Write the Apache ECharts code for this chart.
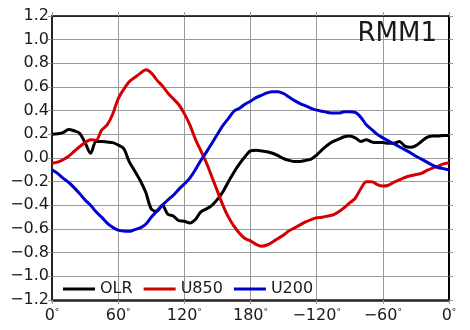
<!DOCTYPE html>
<html><head><meta charset="utf-8">
<script src="https://cdn.jsdelivr.net/npm/echarts@6/dist/echarts.min.js"></script>
<style>html,body{margin:0;padding:0;background:#fff}#c{width:470px;height:330px}</style>
</head><body><div id="c"></div>
<script>
const lon = [0,5,10,15,20,25,30,35,40,45,50,55,60,65,70,75,80,85,90,95,100,105,110,115,120,125,130,135,140,145,150,155,160,165,170,175,180,185,190,195,200,205,210,215,220,225,230,235,240,245,250,255,260,265,270,275,280,285,290,295,300,305,310,315,320,325,330,335,340,345,350,355,360];
const olr = [0.20,0.205,0.215,0.24,0.23,0.21,0.13,0.04,0.14,0.14,0.135,0.13,0.11,0.08,-0.03,-0.11,-0.19,-0.29,-0.43,-0.45,-0.40,-0.475,-0.49,-0.53,-0.535,-0.55,-0.52,-0.455,-0.43,-0.40,-0.35,-0.285,-0.20,-0.12,-0.05,0.01,0.06,0.065,0.06,0.053,0.04,0.02,-0.005,-0.02,-0.03,-0.03,-0.02,-0.01,0.025,0.07,0.11,0.14,0.16,0.18,0.186,0.17,0.14,0.155,0.135,0.13,0.13,0.125,0.125,0.14,0.10,0.09,0.105,0.14,0.175,0.185,0.186,0.19,0.19];
const u850 = [-0.045,-0.035,-0.015,0.015,0.055,0.095,0.13,0.155,0.15,0.235,0.28,0.37,0.50,0.58,0.645,0.68,0.715,0.745,0.72,0.66,0.61,0.55,0.50,0.45,0.375,0.28,0.16,0.06,-0.04,-0.16,-0.28,-0.40,-0.50,-0.575,-0.635,-0.68,-0.70,-0.73,-0.745,-0.735,-0.71,-0.68,-0.65,-0.615,-0.59,-0.565,-0.54,-0.52,-0.505,-0.50,-0.49,-0.48,-0.455,-0.42,-0.38,-0.34,-0.26,-0.20,-0.20,-0.225,-0.237,-0.23,-0.205,-0.185,-0.165,-0.15,-0.14,-0.13,-0.105,-0.085,-0.07,-0.05,-0.04];
const u200 = [-0.10,-0.13,-0.17,-0.205,-0.25,-0.30,-0.355,-0.40,-0.455,-0.50,-0.55,-0.585,-0.61,-0.618,-0.62,-0.605,-0.59,-0.56,-0.50,-0.45,-0.40,-0.355,-0.315,-0.265,-0.22,-0.17,-0.10,-0.02,0.05,0.125,0.20,0.275,0.335,0.395,0.42,0.455,0.48,0.51,0.53,0.55,0.56,0.56,0.545,0.515,0.485,0.46,0.44,0.42,0.405,0.395,0.385,0.38,0.38,0.39,0.39,0.385,0.345,0.28,0.24,0.20,0.17,0.146,0.12,0.095,0.07,0.045,0.015,-0.01,-0.035,-0.06,-0.08,-0.09,-0.10];
const seriesNames = ['OLR','U850','U200'];
const seriesColors = ['#000000','#d40000','#0000d0'];
const titleText = 'RMM1';

const FONT = 'DejaVu Sans';
const TC = '#1a1a1a';
function lonLabel(v){
  let n = v <= 180 ? v : (v === 360 ? 0 : v - 360);
  let s = n < 0 ? '\u2212' + Math.abs(n) : String(n);
  return '{a|' + s + '}{d|°}';
}
function pair(arr){ return lon.map((x,i)=>[x, arr[i]]); }
const chart = echarts.init(document.getElementById('c'), null, {renderer:'canvas'});
const tickStyle = {show:true, inside:false, length:4, lineStyle:{color:'#999', width:1}};
chart.setOption({
  animation:false,
  backgroundColor:'#fff',
  textStyle:{fontFamily:FONT},
  title:{text:titleText, right:28, top:16, textStyle:{fontFamily:FONT, fontSize:26, fontWeight:'normal', color:TC}},
  legend:{
    left:58, top:276, icon:'rect', itemWidth:32, itemHeight:3, itemGap:11,
    data:seriesNames,
    textStyle:{fontFamily:FONT, fontSize:16, color:TC, width:50, padding:[0,0,0,0]}
  },
  grid:{left:52, right:21, top:16, bottom:30},
  xAxis:[
    {type:'value', min:0, max:360, interval:60, position:'bottom',
     axisLine:{show:true, onZero:false, lineStyle:{color:'#222', width:2.5}},
     axisTick:tickStyle,
     axisLabel:{margin:8, color:TC, formatter:lonLabel,
       rich:{a:{fontFamily:FONT, fontSize:16, color:TC}, d:{fontFamily:FONT, fontSize:9, color:TC, verticalAlign:'top'}}},
     splitLine:{show:true, lineStyle:{color:'#999', width:1}}},
    {type:'value', min:0, max:360, interval:60, position:'top',
     axisLine:{show:true, onZero:false, lineStyle:{color:'#000', width:1.5}},
     axisTick:tickStyle, axisLabel:{show:false}, splitLine:{show:false}}
  ],
  yAxis:[
    {type:'value', min:-1.2, max:1.2, interval:0.2, position:'left',
     axisLine:{show:true, onZero:false, lineStyle:{color:'#222', width:2}},
     axisTick:tickStyle,
     axisLabel:{margin:3, color:TC, fontFamily:FONT, fontSize:16,
       formatter:v=>{const s=Math.abs(v).toFixed(1); return (v < -1e-9 ? '\u2212' : '') + s;}},
     splitLine:{show:true, lineStyle:{color:'#999', width:1}}},
    {type:'value', min:-1.2, max:1.2, interval:0.2, position:'right',
     axisLine:{show:true, onZero:false, lineStyle:{color:'#000', width:2}},
     axisTick:tickStyle, axisLabel:{show:false}, splitLine:{show:false}}
  ],
  series:[olr,u850,u200].map((arr,i)=>({
    name:seriesNames[i], type:'line', data:pair(arr), xAxisIndex:0, yAxisIndex:0,
    showSymbol:false, symbol:'none', smooth:0.3,
    lineStyle:{color:seriesColors[i], width:3}, itemStyle:{color:seriesColors[i]}, z:3
  }))
});
</script></body></html>
